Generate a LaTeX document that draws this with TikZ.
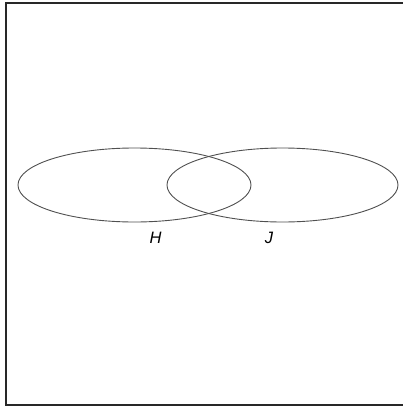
\documentclass[tikz,border=0pt]{standalone}
\usepackage{fontspec}
\setmainfont{Liberation Sans}
\usepackage{tikz}
\definecolor{setgray}{RGB}{80,80,80}
\definecolor{framegray}{RGB}{40,40,40}

\begin{document}
\begin{tikzpicture}[x=1pt, y=-1pt]
\useasboundingbox (0,0) rectangle (403,407);
% Frame (right edge runs off the page)
\draw[framegray, line width=1.6pt] (6,3) rectangle (412,405);
% The two sets
\draw[setgray, line width=0.9pt] (134.5,185) ellipse (116.5 and 37);
\draw[setgray, line width=0.9pt] (282.5,185) ellipse (115.5 and 37);
% Labels
\node[font=\fontsize{16.5}{18}\selectfont\itshape] (labH) at (155.5,238) {H};
\node[font=\fontsize{16.5}{18}\selectfont\itshape] (labJ) at (269,238) {J};
\end{tikzpicture}
\end{document}
